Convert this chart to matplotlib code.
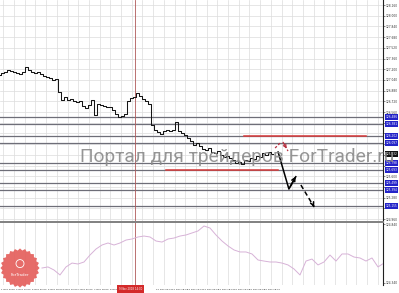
import numpy as np
import matplotlib

matplotlib.use("Agg")
import matplotlib.pyplot as plt
from matplotlib.patches import Circle, Polygon
from matplotlib.transforms import blended_transform_factory

W, H = 399, 293

# hourly-ish closes, one bar every 3 px
closes = [
    127.114, 127.143, 127.158, 127.188, 127.173, 127.158, 127.143, 127.128, 127.158, 127.233,
    127.188, 127.158, 127.143, 127.158, 127.128, 127.098, 127.084, 127.069, 127.039, 127.054,
    126.859, 126.740, 126.785, 126.740, 126.755, 126.725, 126.710, 126.725, 126.650, 126.620,
    126.665, 126.740, 126.516, 126.680, 126.665, 126.650, 126.635, 126.635, 126.590, 126.531,
    126.486, 126.501, 126.531, 126.725, 126.770, 126.785, 126.845, 126.800, 126.755, 126.725,
    126.680, 126.366, 126.291, 126.261, 126.232, 126.276, 126.291, 126.276, 126.291, 126.411,
    126.276, 126.246, 126.217, 126.172, 126.127, 126.067, 126.097, 126.052, 126.007, 125.992,
    126.022, 125.962, 125.947, 125.977, 125.917, 125.888, 125.903, 125.873, 125.843, 125.798,
    125.813, 125.783, 125.843, 125.828, 125.873, 125.858, 125.903, 125.888, 125.947, 125.917,
    125.962, 125.932,
]

# second window (pink line), every 2 bars from bar 14
sub_start = 14
sub_values = [
    124.467, 124.476, 124.450, 124.408, 124.476, 124.509, 124.501, 124.518, 124.577, 124.628,
    124.662, 124.679, 124.662, 124.679, 124.704, 124.713, 124.730, 124.738, 124.730, 124.696,
    124.687, 124.713, 124.721, 124.738, 124.747, 124.764, 124.781, 124.823, 124.806, 124.747,
    124.696, 124.654, 124.620, 124.603, 124.603, 124.586, 124.535, 124.526, 124.518, 124.518,
    124.509, 124.493, 124.459, 124.408, 124.526, 124.543, 124.493, 124.518, 124.577, 124.526,
    124.586, 124.586, 124.560, 124.552, 124.526, 124.552, 124.476, 124.509,
]

levels = [126.486, 126.381, 126.202, 126.097, 125.798, 125.693, 125.499, 125.394, 125.155]
red_lines = [(81.3, 122.0, 126.202), (55.3, 92.7, 125.693)]

solid_path_x = [92.7, 96.3, 99.0]
solid_path_y = [125.962, 125.409, 125.633]
dash_path_x = [100.3, 104.7]
dash_path_y = [125.469, 125.140]
red_up_x = [91.7, 93.7]
red_up_y = [126.022, 126.112]
red_down_x = [94.3, 96.0]
red_down_y = [126.112, 125.977]

price_ticks = [round(128.16 - 0.16 * k, 3) for k in range(21)]
sub_ticks = [124.840, 124.340]

time_labels = [
    "1 Nov 2018", "2 Nov 10:00", "5 Nov 02:00", "5 Nov 18:00", "6 Nov 10:00",
    "7 Nov 02:00", "7 Nov 18:00", "8 Nov 10:00", "", "", "12 Nov 02:00",
    "12 Nov 18:00", "13 Nov 10:00", "14 Nov 02:00", "14 Nov 18:00", "15 Nov 10:00",
    "16 Nov 02:00", "16 Nov 18:00",
]
crosshair_bar = 45
crosshair_label = "9 Nov 2018 14:00"

X_MAX = 383 / 3
GRID_X = [(3.4 + 10.7 * k) / 3 for k in range(36)]
TICK_FS = 2.1

fig = plt.figure(figsize=(W / 100, H / 100), dpi=100)
fig.patch.set_facecolor("white")
ax = fig.add_axes([0, (H - 221) / H, 383 / W, 221 / H])
ax2 = fig.add_axes([0, (H - 285) / H, 383 / W, 63 / H])

for a in (ax, ax2):
    a.set_xlim(0, X_MAX)
    a.set_xticks(GRID_X)
    a.tick_params(axis="x", length=0, labelbottom=False)
    a.grid(True, axis="x", color="#dcdcdc", lw=0.5)
    for s in ("left", "top", "bottom"):
        a.spines[s].set_visible(False)
    a.spines["right"].set_color("#202020")
    a.spines["right"].set_linewidth(0.8)
    a.yaxis.tick_right()
    a.tick_params(axis="y", length=1.2, width=0.4, pad=1.0, labelsize=TICK_FS,
                  colors="#303030")

ax.set_ylim(124.931, 128.235)
ax.set_yticks(price_ticks)
# labels hidden behind level boxes in the terminal
box_prices = levels + [closes[-1]]
ax.set_yticklabels([
    "" if min(abs(v - b) for b in box_prices) < 0.067 else f"{v:.3f}"
    for v in price_ticks
])
ax.grid(True, axis="y", color="#dcdcdc", lw=0.5)

ax2.set_ylim(124.323, 124.857)
ax2.set_yticks(sub_ticks)
ax2.set_yticklabels([f"{v:.3f}" for v in sub_ticks])
ax2.spines["top"].set_visible(True)
ax2.spines["top"].set_color("#808080")
ax2.spines["top"].set_linewidth(1.4)

# support / resistance levels
for lv in levels:
    ax.axhline(lv, color="#6e6e78", lw=0.9, zorder=2)
for x0, x1, y in red_lines:
    ax.plot([x0, x1], [y, y], color="#d83a3a", lw=1.1, zorder=3)

# price
ax.plot(np.arange(len(closes)), closes, color="#151515", lw=0.75,
        drawstyle="steps-mid", zorder=4)

# sub window line
sub_x = np.arange(sub_start, sub_start + 2 * len(sub_values), 2)
ax2.plot(sub_x, sub_values, color="#d7b2d7", lw=0.7, zorder=3)

# crosshair
for a in (ax, ax2):
    a.axvline(crosshair_bar, color="#b05a5a", lw=0.6, zorder=2)

# forecast arrows
ax.plot(solid_path_x[:-1] + [solid_path_x[-1] - 0.4],
        solid_path_y[:-1] + [solid_path_y[-1] - 0.04], color="black", lw=1.1, zorder=5)
ax.annotate("", xy=(solid_path_x[-1], solid_path_y[-1]),
            xytext=(solid_path_x[-2], solid_path_y[-2]),
            arrowprops=dict(arrowstyle="->", color="black", lw=1.1, mutation_scale=6))
ax.plot(dash_path_x, dash_path_y, color="black", lw=1.1, ls=(0, (3, 2)), zorder=5)
ax.annotate("", xy=(dash_path_x[-1], dash_path_y[-1]),
            xytext=(dash_path_x[-1] - 0.6, dash_path_y[-1] + 0.06),
            arrowprops=dict(arrowstyle="->", color="black", lw=1.1, mutation_scale=6))
ax.plot(red_up_x, red_up_y, color="#b83040", lw=0.9, ls=(0, (2, 1.5)), zorder=5)
ax.plot(red_down_x, red_down_y, color="#b83040", lw=0.9, ls=(0, (2, 1.5)), zorder=5)
ax.annotate("", xy=(red_down_x[-1], red_down_y[-1]),
            xytext=(red_down_x[0], red_down_y[0]),
            arrowprops=dict(arrowstyle="->", color="#b83040", lw=0.9, mutation_scale=5))

# level labels on price scale
tr = blended_transform_factory(ax.transAxes, ax.transData)
for lv in levels:
    ax.text(1.006, lv, f"{lv:.3f}", transform=tr, ha="left", va="center",
            fontsize=TICK_FS, color="white", clip_on=False, zorder=10,
            bbox=dict(boxstyle="square,pad=0.25", fc="#2424c8", ec="none"))
ax.text(1.006, closes[-1], f"{closes[-1]:.3f}", transform=tr, ha="left", va="center",
        fontsize=TICK_FS, color="white", clip_on=False, zorder=10,
        bbox=dict(boxstyle="square,pad=0.25", fc="#111111", ec="none"))

# watermark: "Портал для трейдеров" spans roughly x=80..283 px in the screenshot
wm_font = dict(family=["Roboto", "DejaVu Sans"])
probe = fig.text(0, 0, "Портал для трейдеров", fontsize=12, **wm_font)
fig.canvas.draw()
wm_fs = 12 * 203 / probe.get_window_extent().width
probe.remove()
fig.text(80 / W, 1 - 157 / H, "Портал для трейдеров ForTrader.ru", fontsize=wm_fs,
         color="#8a8a8a", alpha=0.9, ha="left", va="center", zorder=20, **wm_font)

# time labels
for i, lab in enumerate(time_labels):
    if lab:
        fig.text((1 + 15.5 * i) / W, 1 - 289 / H, lab, fontsize=1.7,
                 color="#202020", ha="left", va="center")
fig.text(119 / W, 1 - 289 / H, crosshair_label, fontsize=1.9, color="white",
         ha="left", va="center",
         bbox=dict(boxstyle="square,pad=0.6", fc="#d42a2a", ec="none"))

# badge
bx = fig.add_axes([0, (H - 288) / H, 40 / W, 40 / H])
bx.set_xlim(-1, 1)
bx.set_ylim(-1, 1)
bx.set_axis_off()
ang = np.linspace(0, 2 * np.pi, 49)[:-1]
rad = np.where(np.arange(48) % 2 == 0, 0.98, 0.88)
bx.add_patch(Polygon(np.c_[rad * np.cos(ang), rad * np.sin(ang)], fc="#e4605c",
                     ec="none", alpha=0.92))
bx.add_patch(Circle((0, 0.22), 0.2, fc="none", ec="white", lw=0.6))
bx.text(0, -0.35, "ForTrader", fontsize=2.8, color="white", ha="center", va="center")

fig.savefig("out.png", dpi=100)
